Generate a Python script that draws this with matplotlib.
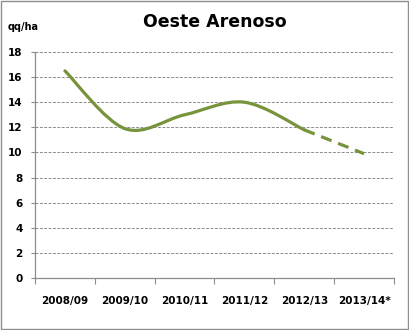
import matplotlib.pyplot as plt
import numpy as np
from matplotlib.path import Path
from matplotlib.patches import PathPatch, Rectangle

seasons = ["2008/09", "2009/10", "2010/11", "2011/12", "2012/13", "2013/14*"]
yield_qq = [16.5, 11.9, 13.0, 14.0, 11.8, 9.9]
n_solid = 5  # last segment (estimate) is dashed

GREEN = "#77933C"
GRID = "#8c8c8c"


def smooth_path(xs, ys):
    # Excel-style smoothed line: cubic Bezier with Catmull-Rom control points
    pts = np.column_stack([xs, ys]).astype(float)
    verts = [pts[0]]
    codes = [Path.MOVETO]
    for i in range(len(pts) - 1):
        p0 = pts[i - 1] if i > 0 else pts[i]
        p1, p2 = pts[i], pts[i + 1]
        p3 = pts[i + 2] if i + 2 < len(pts) else pts[i + 1]
        verts += [p1 + (p2 - p0) / 6, p2 - (p3 - p1) / 6, p2]
        codes += [Path.CURVE4] * 3
    return Path(verts, codes)


fig = plt.figure(figsize=(4.09, 3.30), dpi=100)
fig.patches.append(Rectangle((0.002, 0.003), 0.995, 0.994, transform=fig.transFigure,
                             fill=False, edgecolor="#8c8c8c", linewidth=1.0))
ax = fig.add_axes([35 / 409, 52 / 330, 359 / 409, 226 / 330])

x = np.arange(len(seasons))
ax.add_patch(PathPatch(smooth_path(x[:n_solid], yield_qq[:n_solid]), fill=False,
                       edgecolor=GREEN, linewidth=2.3, capstyle="round"))
ax.plot(x[n_solid - 1:], yield_qq[n_solid - 1:], color=GREEN, linewidth=2.3,
        linestyle=(0, (3.5, 2.2)))

ax.set_xlim(-0.5, len(seasons) - 0.5)
ax.set_ylim(0, 18)
ax.set_yticks(range(0, 19, 2))
ax.set_xticks(x)
ax.set_xticklabels(seasons)
ax.set_xticks(np.arange(-0.5, len(seasons), 1), minor=True)
ax.tick_params(axis="x", which="major", length=0, pad=13)
ax.tick_params(axis="x", which="minor", length=4, color=GRID, width=0.8)
ax.tick_params(axis="y", length=3, color=GRID, width=0.8, pad=6)
for lab in ax.get_xticklabels() + ax.get_yticklabels():
    lab.set_fontweight("bold")
    lab.set_fontsize(7.5)

ax.grid(axis="y", color=GRID, linestyle=(0, (3, 1.5)), linewidth=0.7)
ax.set_axisbelow(True)
for side in ["top", "right"]:
    ax.spines[side].set_visible(False)
for side in ["left", "bottom"]:
    ax.spines[side].set_color(GRID)
    ax.spines[side].set_linewidth(0.9)

fig.text(215 / 409, 1 - 22 / 330, "Oeste Arenoso", ha="center", va="center",
         fontsize=12.5, fontweight="bold")
fig.text(8 / 409, 1 - 27 / 330, "qq/ha", ha="left", va="center",
         fontsize=7, fontweight="bold")

fig.savefig("out.png", dpi=100)
